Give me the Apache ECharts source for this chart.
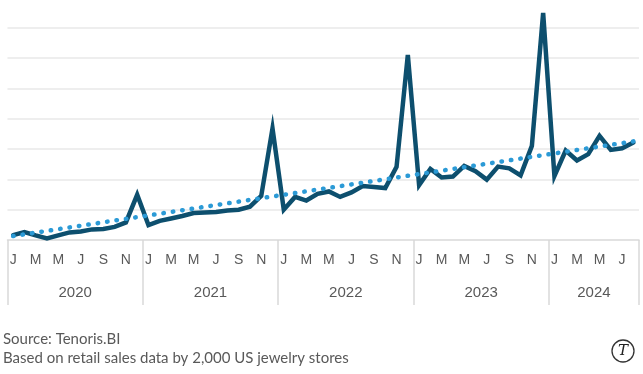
<!DOCTYPE html>
<html>
<head>
<meta charset="utf-8">
<script src="https://cdn.jsdelivr.net/npm/echarts@6/dist/echarts.min.js"></script>
<style>
html,body{margin:0;padding:0;background:#fff;}
#chart{width:643px;height:374px;}
</style>
</head>
<body>
<div id="chart"></div>
<script>
// ---- data ----
const years = ['2020', '2021', '2022', '2023', '2024'];
const monthsPerYear = [12, 12, 12, 12, 8];
const monthInitials = ['J', 'F', 'M', 'A', 'M', 'J', 'J', 'A', 'S', 'O', 'N', 'D'];

const sales = [
  // 2020
  1.6, 2.6, 1.5, 0.5, 1.5, 2.5, 2.8, 3.5, 3.6, 4.3, 5.8, 14.9,
  // 2021
  4.9, 6.3, 7.1, 7.9, 8.9, 9.1, 9.2, 9.7, 10.0, 11.0, 14.5, 36.8,
  // 2022
  10.0, 14.2, 13.0, 15.2, 16.0, 14.2, 15.7, 17.8, 17.5, 17.1, 24.1, 61.0,
  // 2023
  18.1, 23.4, 20.6, 20.9, 24.4, 22.7, 19.9, 24.2, 23.6, 21.3, 31.0, 74.8,
  // 2024
  21.1, 29.5, 26.2, 28.3, 34.3, 29.7, 30.2, 32.1
];
// trend line end points: [month index, value]
const trend = [[0, 1.3], [55, 32.5]];

const sourceLines = ['Source: Tenoris.BI', 'Based on retail sales data by 2,000 US jewelry stores'];

// ---- categories built from the small arrays ----
const categories = [];
const catYear = [];
const catMonth = [];
years.forEach((y, yi) => {
  for (let m = 0; m < monthsPerYear[yi]; m++) {
    categories.push(y + '-' + (m + 1));
    catYear.push(yi);
    catMonth.push(m);
  }
});

const gridLeft = 7.5, gridRight = 4;
const bandW = (643 - gridLeft - gridRight) / categories.length;

const chart = echarts.init(document.getElementById('chart'), null, {renderer: 'canvas'});
const labelColor = '#595959';
const axisColor = '#d9d9d9';

chart.setOption({
  animation: false,
  grid: {left: gridLeft, right: gridRight, top: 3.3, bottom: 134, containLabel: false},
  xAxis: [
    {
      type: 'category',
      data: categories,
      boundaryGap: true,
      axisLine: {show: true, lineStyle: {color: axisColor, width: 1.5}},
      axisTick: {show: false},
      axisLabel: {
        interval: 1,
        margin: 13,
        color: labelColor,
        fontFamily: 'Liberation Sans',
        fontSize: 14,
        formatter: (v, i) => monthInitials[catMonth[i]]
      },
      splitLine: {show: false}
    },
    {
      type: 'category',
      data: categories,
      boundaryGap: true,
      position: 'bottom',
      axisLine: {show: false},
      axisTick: {
        show: true,
        length: 65,
        interval: (i) => catMonth[i] === 0,
        lineStyle: {color: axisColor, width: 1.5}
      },
      axisLabel: {
        interval: (i) => catMonth[i] === Math.floor(monthsPerYear[catYear[i]] / 2),
        margin: 45,
        color: labelColor,
        fontFamily: 'Liberation Sans',
        fontSize: 15,
        padding: [0, bandW, 0, 0],
        formatter: (v, i) => years[catYear[i]]
      },
      splitLine: {show: false}
    }
  ],
  yAxis: {
    type: 'value',
    min: 0,
    max: 78,
    interval: 10,
    axisLine: {show: false},
    axisTick: {show: false},
    axisLabel: {show: false},
    splitLine: {show: true, showMinLine: false, showMaxLine: false, lineStyle: {color: '#e8e8e8', width: 1.5}}
  },
  series: [
    {
      type: 'line',
      data: sales,
      symbol: 'none',
      lineStyle: {color: '#0d4f6e', width: 4.5, join: 'miter', cap: 'round'},
      z: 2
    },
    {
      type: 'line',
      data: trend,
      symbol: 'none',
      lineStyle: {color: '#2b9ad6', width: 4.5, type: [0.5, 9], cap: 'round'},
      z: 3
    }
  ],
  graphic: [
    {
      type: 'text', left: 3, top: 332,
      style: {text: sourceLines[0], fill: labelColor, font: '15px Lato'}
    },
    {
      type: 'text', left: 3, top: 350.5,
      style: {text: sourceLines[1], fill: labelColor, font: '15px Lato'}
    },
    {
      type: 'circle', shape: {cx: 623, cy: 351, r: 11},
      style: {fill: '#fff', stroke: '#333', lineWidth: 1.3}
    },
    {
      type: 'text', x: 623, y: 351,
      style: {text: 'T', fill: '#222', font: 'italic 15px "DejaVu Serif"', align: 'center', verticalAlign: 'middle'}
    }
  ]
});
</script>
</body>
</html>
